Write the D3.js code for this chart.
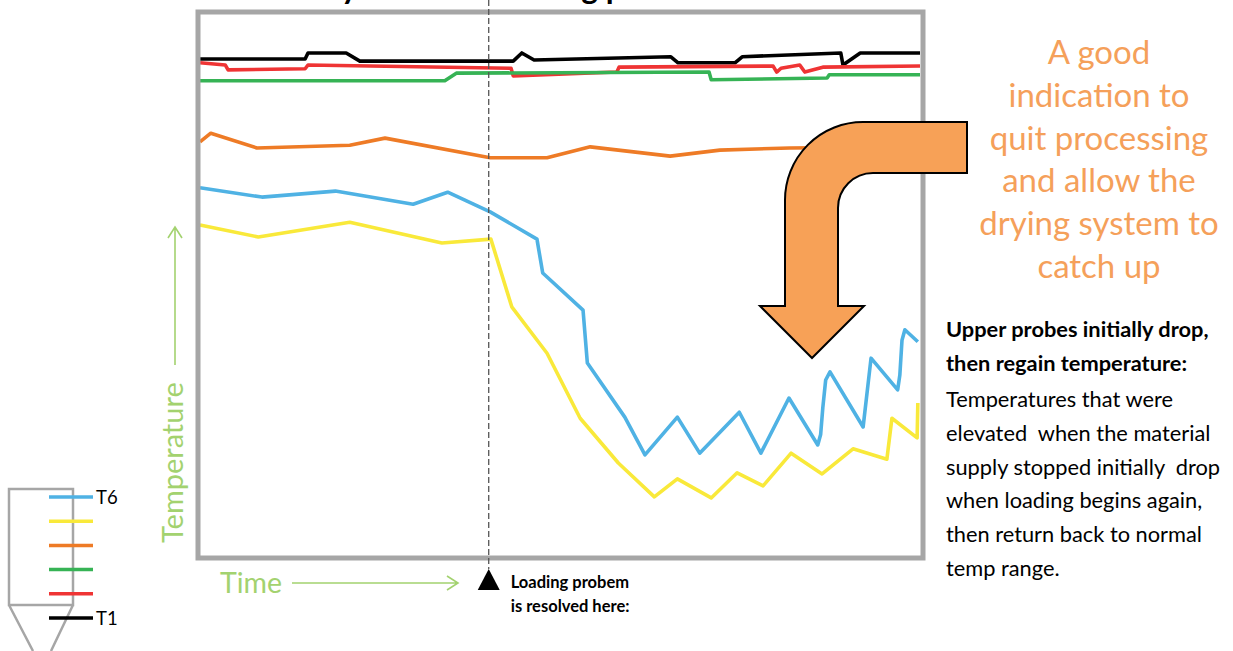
<!DOCTYPE html>
<html><head><meta charset="utf-8">
<script src="https://cdn.jsdelivr.net/npm/d3@7/dist/d3.min.js"></script>
<style>html,body{margin:0;padding:0;background:#fff;overflow:hidden} text{white-space:pre}</style>
</head><body>
<svg id="chart" width="1233" height="651"></svg>
<script>
// ---------------- DATA ----------------
const timeDomain = [0, 100];
const tempDomain = [0, 100];
const seriesNames = ["T1", "T2", "T3", "T4", "T5", "T6"];
const seriesColors = ["#000000", "#ef3434", "#36b355", "#ee7b26", "#f9e93a", "#4fb2e4"];

const T1 = [[0,91.4],[14.6,91.4],[15.0,92.5],[20.3,92.5],[22.2,91.0],[43.5,91.0],[44.7,92.5],[46.4,91.2],[65.4,91.8],[66.4,90.7],[74.3,90.7],[75.3,91.8],[89.0,92.5],[89.3,90.3],[91.7,92.5],[100,92.5]];
const T2 = [[0,90.7],[3.5,90.3],[3.9,89.4],[14.6,89.6],[15.0,90.3],[43.2,89.7],[43.5,88.3],[57.9,89.0],[58.2,89.9],[79.6,90.1],[80.1,89.0],[80.7,89.7],[83.3,90.3],[84.0,89.0],[86.5,89.9],[100,90.1]];
const T3 = [[0,87.4],[34.0,87.4],[35.6,88.8],[70.7,89.0],[71.0,87.6],[87.1,87.9],[87.4,88.5],[100,88.5]];
const T4 = [[0,76.2],[1.5,77.8],[7.9,75.1],[20.8,75.6],[25.7,76.9],[40.3,73.3],[48.2,73.3],[54.2,75.3],[65.3,73.6],[72.2,74.7],[81.9,75.1],[100,75.3]];
const T5 = [[0,61.0],[8.1,58.8],[20.8,61.5],[33.6,57.7],[40.4,58.4],[43.3,46.0],[48.2,37.5],[52.8,25.6],[58.1,17.4],[63.1,11.2],[66.3,14.5],[71.0,11.0],[74.6,15.6],[78.2,13.2],[82.1,19.2],[86.4,15.4],[90.7,20.0],[95.4,18.1],[96.1,25.6],[99.6,22.0],[99.7,28.4]];
const T6 = [[0,67.8],[8.6,66.1],[18.8,67.2],[29.6,64.8],[34.4,67.0],[40.3,63.4],[46.8,58.4],[47.6,52.2],[53.2,45.4],[53.8,35.7],[59.0,25.8],[61.8,18.9],[66.3,25.8],[69.4,19.2],[74.9,26.7],[77.9,19.2],[81.8,29.3],[85.8,20.7],[86.2,22.6],[86.5,27.5],[86.9,32.6],[87.5,34.1],[92.1,24.0],[93.2,36.6],[96.9,30.8],[97.2,33.5],[97.5,39.9],[97.9,41.8],[99.7,39.6]];
const seriesData = [T1, T2, T3, T4, T5, T6];

const loadingResolvedTime = 40.1;
const legendLabels = ["T6", "", "", "", "", "T1"];
const legendColors = ["#4fb2e4", "#f9e93a", "#ee7b26", "#36b355", "#ef3434", "#000000"];

const titleText = "Recovery after the loading problem";
const xAxisLabel = "Time";
const yAxisLabel = "Temperature";
const markerText = ["Loading probem", "is resolved here:"];
const calloutText = ["A good", "indication to", "quit processing", "and allow the", "drying system to", "catch up"];
const noteBold = ["Upper probes initially drop,", "then regain temperature:"];
const noteText = ["Temperatures that were", "elevated  when the material", "supply stopped initially  drop", "when loading begins again,", "then return back to normal", "temp range."];

// ---------------- LAYOUT ----------------
const svg = d3.select("#chart");
const FONT = "Lato, 'Open Sans', sans-serif";
const GREEN = "#a3d26f";
const FRAME = {x: 198, y: 12, w: 725, h: 546};

const x = d3.scaleLinear().domain(timeDomain).range([200, 920]);
const y = d3.scaleLinear().domain(tempDomain).range([558, 12]);

// title (cropped at top of picture, as in the source)
svg.append("text").attr("x", 226).attr("y", -1)
  .attr("font-family", FONT).attr("font-weight", 700).attr("font-size", 32)
  .attr("fill", "#000").text(titleText);

// series lines
const line = d3.line().x(d => x(d[0])).y(d => y(d[1]));
svg.append("g").selectAll("path").data(seriesData).join("path")
  .attr("d", line).attr("fill", "none")
  .attr("stroke", (d, i) => seriesColors[i])
  .attr("stroke-width", 3.6).attr("stroke-linejoin", "round");

// frame
svg.append("rect").attr("x", FRAME.x).attr("y", FRAME.y).attr("width", FRAME.w).attr("height", FRAME.h)
  .attr("fill", "none").attr("stroke", "#a6a6a6").attr("stroke-width", 5);

// dashed marker line
const mx = x(loadingResolvedTime);
svg.append("line").attr("x1", mx).attr("x2", mx).attr("y1", 0).attr("y2", 569)
  .attr("stroke", "#555").attr("stroke-width", 1.3).attr("stroke-dasharray", "6,3");
svg.append("path").attr("d", `M${mx},569 L${mx+11},590 L${mx-11},590 Z`).attr("fill", "#000");
svg.append("g").selectAll("text").data(markerText).join("text")
  .attr("x", mx + 22).attr("y", (d, i) => 588 + i * 24)
  .attr("font-family", FONT).attr("font-weight", 700).attr("font-size", 16.5).attr("fill", "#000")
  .text(d => d);

// Time label + arrow
svg.append("text").attr("x", 220).attr("y", 593).attr("font-family", FONT).attr("font-size", 28.5)
  .attr("fill", GREEN).text(xAxisLabel);
svg.append("path").attr("d", "M292,583 L458,583 M447,576 L458,583 L447,590")
  .attr("fill", "none").attr("stroke", GREEN).attr("stroke-width", 1.6);

// Temperature label + arrow
svg.append("text").attr("transform", "translate(183,543) rotate(-90)")
  .attr("font-family", FONT).attr("font-size", 29).attr("fill", GREEN).text(yAxisLabel);
svg.append("path").attr("d", "M175,365 L175,227 M168,238 L175,227 L182,238")
  .attr("fill", "none").attr("stroke", GREEN).attr("stroke-width", 1.6);

// bent arrow
svg.append("path")
  .attr("d", "M967,122 L863,122 A78,78 0 0 0 785,200 L785,306 L760,306 L812,358 L864,306 L838,306 L838,208 A35,35 0 0 1 873,173 L967,173 Z")
  .attr("fill", "#f7a157").attr("stroke", "#000").attr("stroke-width", 2).attr("stroke-linejoin", "miter");

// callout text
svg.append("g").selectAll("text").data(calloutText).join("text")
  .attr("x", 1099).attr("y", (d, i) => 64 + i * 42.8)
  .attr("text-anchor", "middle").attr("font-family", FONT).attr("font-size", 33)
  .attr("fill", "#f5a05a").text(d => d);

// note text
svg.append("g").selectAll("text").data(noteBold).join("text")
  .attr("x", 946).attr("y", (d, i) => 337 + i * 34)
  .attr("font-family", FONT).attr("font-weight", 700).attr("font-size", 21.8).attr("fill", "#000").text(d => d);
svg.append("g").selectAll("text").data(noteText).join("text")
  .attr("x", 946).attr("y", (d, i) => 407 + i * 33.8)
  .attr("font-family", FONT).attr("font-size", 21.8).attr("fill", "#000").text(d => d);

// legend vessel
const lg = svg.append("g");
lg.append("path").attr("d", "M9,489 L73,489 L73,605 L9,605 Z M9,605 L33,651 M73,605 L51,651")
  .attr("fill", "none").attr("stroke", "#a6a6a6").attr("stroke-width", 2.5);
const ly = d3.scalePoint().domain(d3.range(legendColors.length)).range([497, 618]);
lg.selectAll("line").data(legendColors).join("line")
  .attr("x1", 49).attr("x2", 93).attr("y1", (d, i) => ly(i)).attr("y2", (d, i) => ly(i))
  .attr("stroke", d => d).attr("stroke-width", 3.5);
lg.selectAll("text").data(legendLabels).join("text")
  .attr("x", 96).attr("y", (d, i) => ly(i) + 6.5)
  .attr("font-family", FONT).attr("font-size", 18.5).attr("fill", "#000").text(d => d);
</script>
</body></html>
